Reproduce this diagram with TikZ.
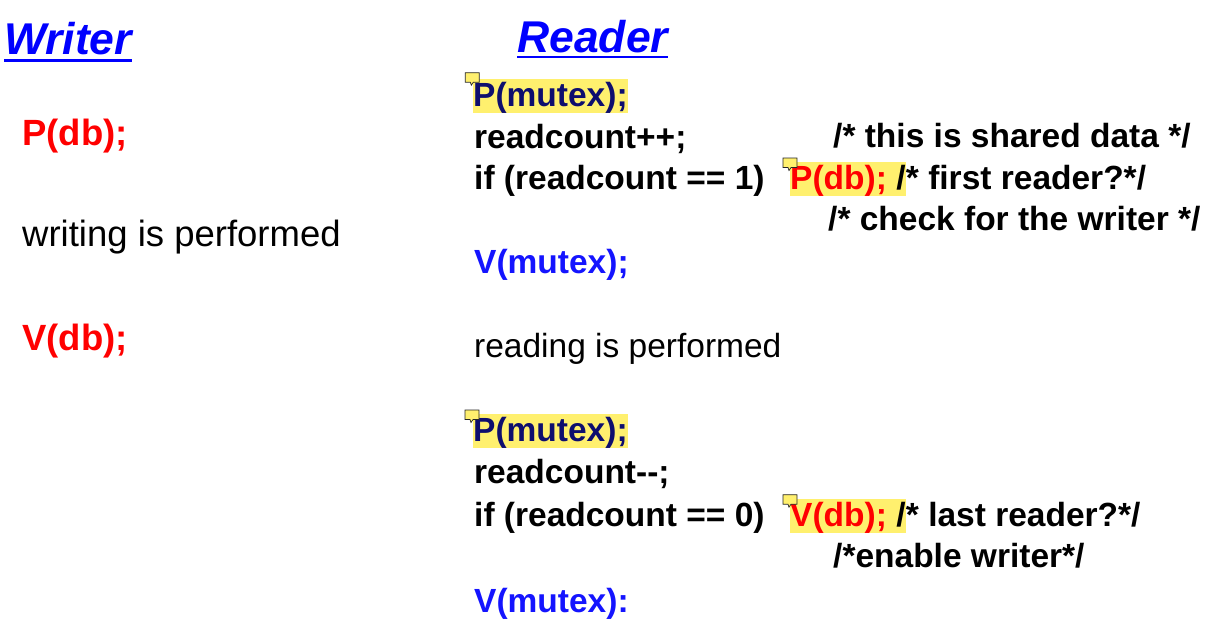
\documentclass[tikz,border=0pt]{standalone}
\usepackage{fontspec}
\setmainfont{Liberation Sans}
\usetikzlibrary{positioning}
\definecolor{titleblue}{RGB}{0,0,255}
\definecolor{mutexnavy}{RGB}{14,14,110}
\definecolor{mutexblue}{RGB}{20,20,255}
\definecolor{dbred}{RGB}{255,0,0}
\definecolor{hlyellow}{RGB}{255,240,110}
\begin{document}
\begin{tikzpicture}[x=1pt,y=-1pt,
    every node/.style={inner sep=0pt,anchor=base west},
    title/.style={text=titleblue,font=\fontsize{44.5}{50}\selectfont\bfseries\itshape},
    wcode/.style={font=\fontsize{36.5}{42}\selectfont\bfseries},
    wtext/.style={font=\fontsize{36.5}{42}\selectfont},
    code/.style={font=\fontsize{33.5}{40}\selectfont\bfseries},
    plain/.style={font=\fontsize{33.5}{40}\selectfont},
    hl/.style={fill=hlyellow,text height=27.5pt,text depth=6.5pt},
    uline/.style={titleblue,line width=2.7pt},
    pics/notetag/.style={code={
      \draw[fill=hlyellow,draw=black!85,line width=0.7pt]
        (0,0) -- (14,0) -- (14,9.5) -- (8,9.5) -- (6,12.5) -- (5,9.5) -- (0,9.5) -- cycle;}}]
    \useasboundingbox (0,0) rectangle (1210,642);
    % writer
    \node[title] (wtitle) at (4,55) {Writer};
    \draw[uline] ([yshift=-5.7pt]wtitle.base west) -- ([yshift=-5.7pt]wtitle.base east);
    \node[wcode,text=dbred] (wp) at (22,145) {P(db);};
    \node[wtext] (wwork) at (22,246.7) {writing is performed};
    \node[wcode,text=dbred] (wv) at (22,350) {V(db);};
    % reader
    \node[title] (rtitle) at (517,52.3) {Reader};
    \draw[uline] ([yshift=-4.6pt]rtitle.base west) -- ([yshift=-4.6pt]rtitle.base east);
    \node[code,hl,text=mutexnavy] (rp1) at (473,106.7) {P(mutex);};
    \node[code] (rinc) at (474,148) {readcount++;};
    \node[code] (rif1) at (474,189.5) {if (readcount == 1)};
    \node[code,hl] (rpdb) at (790,189.5) {\textcolor{dbred}{P(db);} /};
    \node[code,base right=0pt of rpdb] (rfirst) {* first reader?*/};
    \node[code] (rshared) at (833,147) {/* this is shared data */};
    \node[code] (rcheck) at (828,230.5) {/* check for the writer */};
    \node[code,text=mutexblue] (rv1) at (474,273.3) {V(mutex);};
    \node[plain] (rwork) at (474,357) {reading is performed};
    \node[code,hl,text=mutexnavy] (rp2) at (473,441.7) {P(mutex);};
    \node[code] (rdec) at (474,483) {readcount-{}-;};
    \node[code] (rif2) at (474,526) {if (readcount == 0)};
    \node[code,hl] (rvdb) at (790,526) {\textcolor{dbred}{V(db);} /};
    \node[code,base right=0pt of rvdb] (rlast) {* last reader?*/};
    \node[code] (renable) at (833,567) {/*enable writer*/};
    \node[code,text=mutexblue] (rv2) at (474,612) {V(mutex):};
    % comment tags
    \pic at (465.3,72.7) {notetag};
    \pic at (783,158) {notetag};
    \pic at (465,410) {notetag};
    \pic at (783,494.7) {notetag};
\end{tikzpicture}
\end{document}
